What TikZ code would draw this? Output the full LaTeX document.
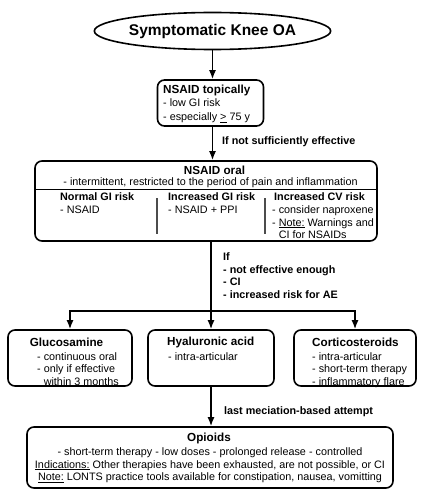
\documentclass[tikz,border=0pt]{standalone}
\usepackage{fontspec}
\setmainfont{Liberation Sans}
\usetikzlibrary{shapes.geometric,arrows.meta}

\tikzset{
  frame/.style={draw, line width=1.6pt, rounded corners=7pt, inner sep=0pt},
  ttl/.style={font=\bfseries\fontsize{11.7}{13}\selectfont, inner sep=0pt},
  txt/.style={font=\fontsize{10.8}{12.5}\selectfont, align=left, inner sep=0pt},
  lbl/.style={font=\bfseries\fontsize{10.8}{12.7}\selectfont, align=left, inner sep=0pt},
  flow/.style={line width=1.6pt, -{Latex[length=9pt,width=7pt]}}
}

\begin{document}
\begin{tikzpicture}[x=1pt,y=-1pt]
\useasboundingbox (0,0) rectangle (424,500);

\node[ellipse, draw, line width=1.6pt, minimum width=229pt, minimum height=37pt, inner sep=0pt,
  font=\bfseries\fontsize{15.5}{18}\selectfont] (knee) at (212.5,31) {Symptomatic Knee OA};

% topical
\node[frame, minimum width=106pt, minimum height=46pt] (topic) at (210.5,103) {};
\node[ttl, anchor=west] (topicT) at (163,90) {NSAID topically};
\node[txt, anchor=north west, font=\fontsize{10.8}{14.5}\selectfont] (topicB) at (163,98) {- low GI risk\\- especially \underline{>} 75 y};

% oral
\node[frame, minimum width=342pt, minimum height=80pt] (oral) at (206,201) {};
\node[ttl] (oralT) at (214.5,170) {NSAID oral};
\node[txt] (oralS) at (210.5,182.5) {- intermittent, restricted to the period of pain and inflammation};
\draw[line width=0.8pt] (35,189.5) -- (377,189.5);
\draw[line width=1.3pt, black!70] (157,198) -- (157,234);
\draw[line width=1.3pt, black!70] (265,198) -- (265,234);

\node[lbl, anchor=west] (normT) at (60,197) {Normal GI risk};
\node[txt, anchor=north west] (normB) at (60,205.5) {- NSAID};
\node[lbl, anchor=west] (giT) at (168,197) {Increased GI risk};
\node[txt, anchor=north west] (giB) at (168,205.5) {- NSAID + PPI};
\node[lbl, anchor=west] (cvT) at (274,197) {Increased CV risk};
\node[txt, anchor=north west] (cvB) at (272,205.5) {- consider naproxene\\- \underline{Note:} Warnings and\\\phantom{- }CI for NSAIDs};

% second line
\node[frame, minimum width=124pt, minimum height=56pt] (gluc) at (70,358) {};
\node[ttl] (glucT) at (66.5,342) {Glucosamine};
\node[txt, anchor=north west] (glucB) at (37,352) {- continuous oral\\- only if effective\\\phantom{- }within 3 months};

\node[frame, minimum width=126pt, minimum height=56pt] (hyal) at (211,358) {};
\node[ttl, anchor=west] (hyalT) at (167,342) {Hyaluronic acid};
\node[txt, anchor=north west] (hyalB) at (168,352) {- intra-articular};

\node[frame, minimum width=122pt, minimum height=56pt] (cort) at (355,358) {};
\node[ttl, anchor=west] (cortT) at (312,342) {Corticosteroids};
\node[txt, anchor=north west] (cortB) at (312,352) {- intra-articular\\- short-term therapy\\- inflammatory flare};

% last step
\node[frame, minimum width=366pt, minimum height=61pt] (opio) at (210,457.5) {};
\node[ttl] (opioT) at (209,438) {Opioids};
\node[txt, align=center, anchor=north] (opioB) at (210,447.5) {- short-term therapy - low doses - prolonged release - controlled\\
  \underline{Indications:} Other therapies have been exhausted, are not possible, or CI\\
  \underline{Note:} LONTS practice tools available for constipation, nausea, vomitting};

% arrows
\coordinate (split) at (211.5,311);
\draw[flow] (knee.south) -- (knee.south |- topic.north);
\draw[flow] (topic.south -| knee.south) -- (oral.north -| knee.south);
\draw[flow] (oral.south -| hyal.north) -- (hyal.north);
\draw[flow] (split) -| (gluc.north);
\draw[flow] (split) -| (cort.north);
\draw[flow] (hyal.south) -- (opio.north -| hyal.south);

\node[lbl, anchor=west] (ifnot) at (222,142) {If not sufficiently effective};
\node[lbl, anchor=north west] (cond) at (223,252.5) {If\\- not effective enough\\- CI\\- increased risk for AE};
\node[lbl, anchor=west] (last) at (224,412) {last meciation-based attempt};

\end{tikzpicture}
\end{document}
